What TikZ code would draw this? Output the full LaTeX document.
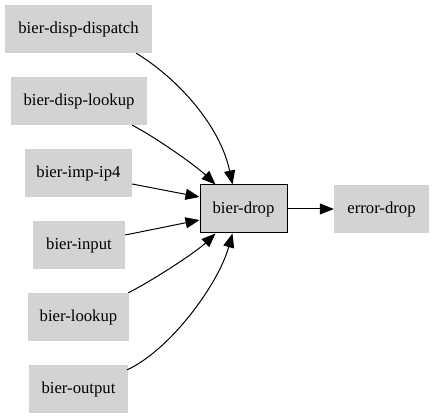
\documentclass[tikz,border=0pt]{standalone}
\usepackage{fontspec}
\setmainfont{Liberation Serif}
\newfontfamily\nodefont{Liberation Serif}
\usetikzlibrary{arrows.meta}
\definecolor{nodegray}{HTML}{D3D3D3}
\begin{document}
\begin{tikzpicture}[x=1pt,y=-1pt,
  src/.style={fill=nodegray,draw=none,inner sep=0pt,minimum height=48pt,font=\nodefont\fontsize{16.7}{20}\selectfont},
  hub/.style={fill=nodegray,draw=black,line width=1pt,inner sep=0pt,minimum height=48pt,minimum width=87pt,font=\nodefont\fontsize{16.7}{20}\selectfont},
  edge/.style={line width=1pt,-{Triangle[length=14pt,width=11pt]}}]
\useasboundingbox (0,0) rectangle (433,419);
\node[src,minimum width=147pt] (a) at (78.5,29) {bier-disp-dispatch};
\node[src,minimum width=136pt] (b) at (79,101) {bier-disp-lookup};
\node[src,minimum width=107pt] (c) at (78.5,173) {bier-imp-ip4};
\node[src,minimum width=92pt] (d) at (79,245) {bier-input};
\node[src,minimum width=101pt] (e) at (78.5,317) {bier-lookup};
\node[src,minimum width=99pt] (f) at (78.5,389) {bier-output};
\node[hub] (drop) at (243.5,209) {bier-drop};
\node[src,minimum width=95pt] (err) at (381.5,209) {error-drop};
\draw[edge] ([xshift=-16pt]a.south east) .. controls (177,78) and (220,125) .. ([xshift=-11pt]drop.north);
\draw[edge] ([xshift=-15pt]b.south east) .. controls (155,137) and (195,165) .. ([xshift=-28pt]drop.north);
\draw[edge] ([yshift=-11pt]c.east) -- ([yshift=12pt]drop.west);
\draw[edge] ([yshift=10pt]d.east) -- ([yshift=-11pt]drop.west);
\draw[edge] ([xshift=-1pt]e.north east) .. controls (150,282) and (195,253) .. ([xshift=-28pt]drop.south);
\draw[edge] ([xshift=-1pt,yshift=-5pt]f.north east) .. controls (170,350) and (218,285) .. ([xshift=-11pt]drop.south);
\draw[edge] (drop) -- (err);
\end{tikzpicture}
\end{document}
